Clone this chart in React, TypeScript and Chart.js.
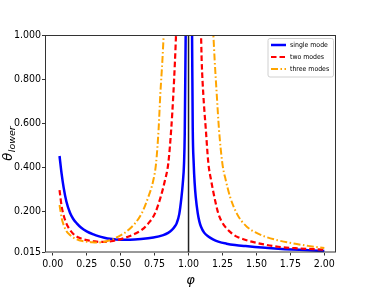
import React, { useEffect, useRef } from 'react';
import { Chart, registerables } from 'chart.js';

Chart.register(...registerables);

// ---- data ----
const SERIES_LABELS = ['single mode', 'two modes', 'three modes'];
const SERIES_COLORS = ['#0000ff', '#ff0000', '#ffa500'];

const SINGLE_LEFT_PHI = [0.05, 0.065, 0.08, 0.1, 0.127, 0.15, 0.177, 0.21, 0.25, 0.3, 0.336, 0.38, 0.422, 0.5, 0.569, 0.65, 0.741, 0.814, 0.85, 0.876, 0.9, 0.913, 0.932, 0.947, 0.958, 0.967, 0.972, 0.979, 0.981];
const SINGLE_LEFT_THETA = [0.452, 0.373, 0.31, 0.247, 0.195, 0.168, 0.147, 0.127, 0.111, 0.097, 0.089, 0.082, 0.077, 0.073, 0.073, 0.076, 0.083, 0.094, 0.104, 0.116, 0.134, 0.148, 0.19, 0.26, 0.33, 0.42, 0.55, 1.0, 1.1];
const SINGLE_RIGHT_PHI = [1.024, 1.026, 1.031, 1.038, 1.045, 1.053, 1.068, 1.08, 1.092, 1.115, 1.146, 1.18, 1.219, 1.28, 1.342, 1.42, 1.514, 1.611, 1.711, 1.85, 2.0];
const SINGLE_RIGHT_THETA = [1.1, 1.0, 0.578, 0.419, 0.33, 0.267, 0.192, 0.155, 0.132, 0.105, 0.087, 0.074, 0.064, 0.055, 0.049, 0.044, 0.039, 0.034, 0.030, 0.026, 0.022];

const TWO_LEFT_PHI = [0.05, 0.066, 0.08, 0.1, 0.127, 0.15, 0.177, 0.21, 0.25, 0.3, 0.348, 0.39, 0.43, 0.471, 0.52, 0.569, 0.61, 0.655, 0.704, 0.753, 0.795, 0.827, 0.851, 0.873, 0.888, 0.9, 0.908, 0.915];
const TWO_LEFT_THETA = [0.298, 0.222, 0.184, 0.147, 0.117, 0.1, 0.087, 0.078, 0.071, 0.066, 0.063, 0.063, 0.066, 0.071, 0.079, 0.09, 0.101, 0.117, 0.147, 0.192, 0.267, 0.343, 0.419, 0.578, 0.729, 0.88, 1.0, 1.1];
const TWO_RIGHT_PHI = [1.085, 1.092, 1.097, 1.109, 1.127, 1.146, 1.166, 1.19, 1.219, 1.24, 1.269, 1.31, 1.355, 1.41, 1.465, 1.56, 1.661, 1.8, 2.0];
const TWO_RIGHT_THETA = [1.1, 1.0, 0.88, 0.729, 0.575, 0.419, 0.343, 0.267, 0.192, 0.16, 0.132, 0.106, 0.087, 0.074, 0.064, 0.051, 0.041, 0.034, 0.028];

const THREE_LEFT_PHI = [0.05, 0.066, 0.08, 0.1, 0.127, 0.15, 0.177, 0.21, 0.25, 0.29, 0.324, 0.355, 0.39, 0.434, 0.483, 0.52, 0.557, 0.606, 0.655, 0.704, 0.741, 0.761, 0.78, 0.792, 0.807, 0.817, 0.825];
const THREE_LEFT_THETA = [0.23, 0.17, 0.14, 0.112, 0.094, 0.083, 0.075, 0.068, 0.064, 0.061, 0.06, 0.061, 0.065, 0.073, 0.087, 0.1, 0.117, 0.147, 0.192, 0.267, 0.343, 0.419, 0.578, 0.729, 0.88, 1.0, 1.1];
const THREE_RIGHT_PHI = [1.175, 1.183, 1.193, 1.208, 1.224, 1.249, 1.274, 1.306, 1.355, 1.39, 1.429, 1.49, 1.563, 1.66, 1.76, 1.88, 2.0];
const THREE_RIGHT_THETA = [1.1, 1.0, 0.88, 0.729, 0.575, 0.419, 0.343, 0.267, 0.192, 0.158, 0.132, 0.107, 0.087, 0.07, 0.057, 0.045, 0.035];

const VLINE_PHI = [1, 1];
const VLINE_THETA = [0.015, 1.0];

const X_TICKS = [0, 0.25, 0.5, 0.75, 1.0, 1.25, 1.5, 1.75, 2.0];
const Y_TICKS = [0.015, 0.2, 0.4, 0.6, 0.8, 1.0];
const X_MIN = -0.057;
const X_MAX = 2.086;
const Y_MIN = 0.015;
const Y_MAX = 1.0;

const X_TITLE = 'φ';
const Y_TITLE_MAIN = 'θ';
const Y_TITLE_SUB = 'lower';

const FONT = "'DejaVu Sans Condensed', 'DejaVu Sans', sans-serif";
const FONT_ITALIC = "'DejaVu Sans', sans-serif";

const pts = (xs: number[], ys: number[]) => xs.map((x, i) => ({ x, y: ys[i] }));
const branch = (lx: number[], ly: number[], rx: number[], ry: number[]) => [
  ...pts(lx, ly),
  { x: (lx[lx.length - 1] + rx[0]) / 2, y: null as any },
  ...pts(rx, ry),
];

const overlayPlugin = {
  id: 'overlay',
  afterDraw(chart: any) {
    const ctx = chart.ctx as CanvasRenderingContext2D;
    const ca = chart.chartArea;
    ctx.save();
    // frame
    ctx.strokeStyle = '#333';
    ctx.lineWidth = 1;
    ctx.setLineDash([]);
    ctx.strokeRect(ca.left + 0.5, ca.top + 0.5, ca.right - ca.left - 1, ca.bottom - ca.top - 1);

    // legend
    const lx = 268, ly = 38.5, lw = 65.5, lh = 38.5;
    ctx.beginPath();
    const r = 2;
    ctx.moveTo(lx + r, ly);
    ctx.lineTo(lx + lw - r, ly);
    ctx.quadraticCurveTo(lx + lw, ly, lx + lw, ly + r);
    ctx.lineTo(lx + lw, ly + lh - r);
    ctx.quadraticCurveTo(lx + lw, ly + lh, lx + lw - r, ly + lh);
    ctx.lineTo(lx + r, ly + lh);
    ctx.quadraticCurveTo(lx, ly + lh, lx, ly + lh - r);
    ctx.lineTo(lx, ly + r);
    ctx.quadraticCurveTo(lx, ly, lx + r, ly);
    ctx.closePath();
    ctx.fillStyle = 'rgba(255,255,255,0.85)';
    ctx.fill();
    ctx.strokeStyle = '#d0d0d0';
    ctx.lineWidth = 1;
    ctx.stroke();

    const series = chart.data.datasets.filter((d: any) => SERIES_LABELS.includes(d.label));
    ctx.font = `6.9px ${FONT}`;
    ctx.textBaseline = 'middle';
    ctx.textAlign = 'left';
    series.forEach((d: any, i: number) => {
      const y = 45 + i * 12;
      ctx.beginPath();
      ctx.strokeStyle = d.borderColor;
      ctx.lineWidth = d.borderWidth;
      ctx.setLineDash(d.borderDash || []);
      ctx.moveTo(271, y);
      ctx.lineTo(286, y);
      ctx.stroke();
      ctx.setLineDash([]);
      ctx.fillStyle = '#000';
      ctx.fillText(d.label, 290, y + 0.5);
    });

    // axis titles
    ctx.fillStyle = '#000';
    ctx.font = `italic 13px ${FONT_ITALIC}`;
    ctx.textAlign = 'center';
    ctx.textBaseline = 'alphabetic';
    ctx.fillText(X_TITLE, (ca.left + ca.right) / 2, 284);

    ctx.save();
    ctx.translate(12, (ca.top + ca.bottom) / 2);
    ctx.rotate(-Math.PI / 2);
    ctx.font = `italic 13px ${FONT_ITALIC}`;
    const w1 = ctx.measureText(Y_TITLE_MAIN).width;
    ctx.font = `italic 9.5px ${FONT_ITALIC}`;
    const w2 = ctx.measureText(Y_TITLE_SUB).width;
    const start = -(w1 + w2) / 2;
    ctx.textAlign = 'left';
    ctx.font = `italic 13px ${FONT_ITALIC}`;
    ctx.fillText(Y_TITLE_MAIN, start, 0);
    ctx.font = `italic 9.5px ${FONT_ITALIC}`;
    ctx.fillText(Y_TITLE_SUB, start + w1 + 0.5, 2.5);
    ctx.restore();

    ctx.restore();
  },
};

export default function App() {
  const ref = useRef<HTMLCanvasElement | null>(null);
  useEffect(() => {
    if (!ref.current) return;
    const common = { pointRadius: 0, fill: false, clip: 0, cubicInterpolationMode: 'monotone' as const, spanGaps: false };
    const chart = new Chart(ref.current, {
      type: 'line',
      data: {
        datasets: [
          {
            label: SERIES_LABELS[0],
            data: branch(SINGLE_LEFT_PHI, SINGLE_LEFT_THETA, SINGLE_RIGHT_PHI, SINGLE_RIGHT_THETA),
            borderColor: SERIES_COLORS[0],
            borderWidth: 2.5,
            order: 3,
            ...common,
          },
          {
            label: SERIES_LABELS[1],
            data: branch(TWO_LEFT_PHI, TWO_LEFT_THETA, TWO_RIGHT_PHI, TWO_RIGHT_THETA),
            borderColor: SERIES_COLORS[1],
            borderWidth: 2.2,
            borderDash: [5.5, 3],
            order: 2,
            ...common,
          },
          {
            label: SERIES_LABELS[2],
            data: branch(THREE_LEFT_PHI, THREE_LEFT_THETA, THREE_RIGHT_PHI, THREE_RIGHT_THETA),
            borderColor: SERIES_COLORS[2],
            borderWidth: 2,
            borderDash: [7, 2.5, 1.5, 2.5],
            order: 1,
            ...common,
          },
          {
            label: 'vline',
            data: pts(VLINE_PHI, VLINE_THETA),
            borderColor: '#222',
            borderWidth: 1.5,
            order: 0,
            pointRadius: 0,
            fill: false,
            clip: 0,
          },
        ],
      } as any,
      options: {
        responsive: false,
        animation: false,
        devicePixelRatio: 1,
        layout: { padding: { left: 0, top: 35, right: 38, bottom: 0 } },
        plugins: { legend: { display: false }, tooltip: { enabled: false }, title: { display: false } },
        scales: {
          x: {
            type: 'linear',
            min: X_MIN,
            max: X_MAX,
            afterBuildTicks: (scale: any) => {
              scale.ticks = X_TICKS.map((v) => ({ value: v }));
            },
            afterFit: (scale: any) => {
              scale.height = 38.5;
            },
            border: { display: false },
            grid: { drawOnChartArea: false, drawTicks: true, tickLength: 3, color: '#333' },
            ticks: {
              autoSkip: false,
              maxRotation: 0,
              padding: 2,
              color: '#000',
              font: { family: FONT, size: 10.5 },
              callback: (v: any) => Number(v).toFixed(2),
            },
          },
          y: {
            type: 'linear',
            min: Y_MIN,
            max: Y_MAX,
            afterBuildTicks: (scale: any) => {
              scale.ticks = Y_TICKS.map((v) => ({ value: v }));
            },
            afterFit: (scale: any) => {
              scale.width = 45;
            },
            border: { display: false },
            grid: { drawOnChartArea: false, drawTicks: true, tickLength: 3, color: '#333' },
            ticks: {
              autoSkip: false,
              padding: 1,
              color: '#000',
              font: { family: FONT, size: 10.5 },
              callback: (v: any) => Number(v).toFixed(3),
            },
          },
        },
      } as any,
      plugins: [overlayPlugin],
    });
    return () => chart.destroy();
  }, []);

  return (
    <div style={{ position: 'fixed', left: 0, top: 0, width: 374, height: 291, background: '#fff' }}>
      <canvas ref={ref} width={374} height={291} style={{ display: 'block', width: 374, height: 291 }} />
    </div>
  );
}
